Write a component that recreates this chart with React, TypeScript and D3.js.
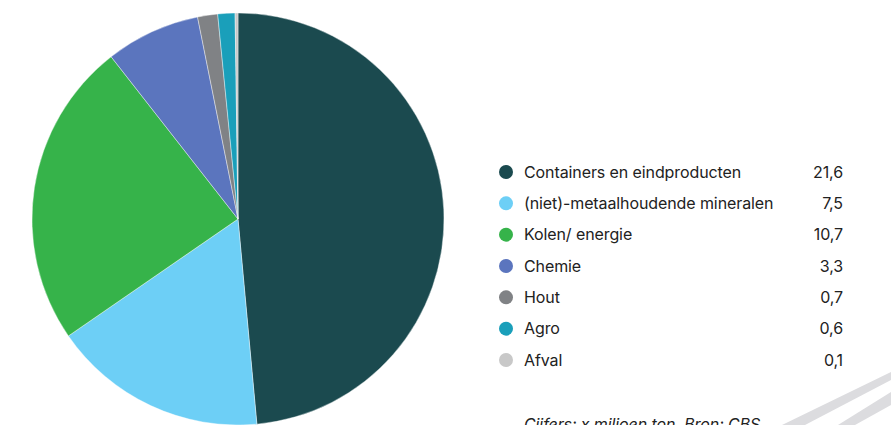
import React from "react";
import * as d3 from "d3";

const categories = [
  "Containers en eindproducten",
  "(niet)-metaalhoudende mineralen",
  "Kolen/ energie",
  "Chemie",
  "Hout",
  "Agro",
  "Afval",
];
const values = [21.6, 7.5, 10.7, 3.3, 0.7, 0.6, 0.1];
const valueLabels = ["21,6", "7,5", "10,7", "3,3", "0,7", "0,6", "0,1"];
const colors = ["#1b4a4f", "#6dcff6", "#36b34a", "#5b75be", "#808285", "#1a9fba", "#c8c8c8"];
const footnote = "Cijfers: x miljoen ton. Bron: CBS";

export default function App() {
  const W = 891, H = 425;
  const cx = 238, cy = 219, r = 206;
  const pie = d3.pie<number>().sort(null).value((d) => d);
  const arcs = pie(values);
  const arc = d3.arc<d3.PieArcDatum<number>>().innerRadius(0).outerRadius(r);
  const rowY = d3.scalePoint<number>().domain(d3.range(categories.length)).range([172, 360]);
  const font = "Inter, 'Noto Sans', sans-serif";
  return (
    <svg width={W} height={H} style={{ position: "absolute", left: 0, top: 0, background: "#fff" }}>
      <g transform={`translate(${cx},${cy})`}>
        {arcs.map((a, i) => (
          <path key={i} d={arc(a) || ""} fill={colors[i]} stroke="#fff" strokeWidth={0.4} />
        ))}
      </g>
      <polygon points="891,372 891,380 805,425 782,425" fill="#dcdcdf" />
      <polygon points="891,392 891,405 855,425 838,425" fill="#dcdcdf" />
      {categories.map((c, i) => (
        <g key={c} transform={`translate(0,${rowY(i)})`}>
          <circle cx={506} cy={0} r={7} fill={colors[i]} />
          <text x={524} y={0} dy="0.35em" fontFamily={font} fontSize={16} fill="#222" letterSpacing={-0.1}>
            {c}
          </text>
          <text x={843} y={0} dy="0.35em" fontFamily={font} fontSize={16} fill="#222" textAnchor="end" letterSpacing={-0.1}>
            {valueLabels[i]}
          </text>
        </g>
      ))}
      <text x={524} y={430} fontFamily={font} fontSize={16} fontStyle="italic" fill="#222" letterSpacing={-0.1}>
        {footnote}
      </text>
    </svg>
  );
}
